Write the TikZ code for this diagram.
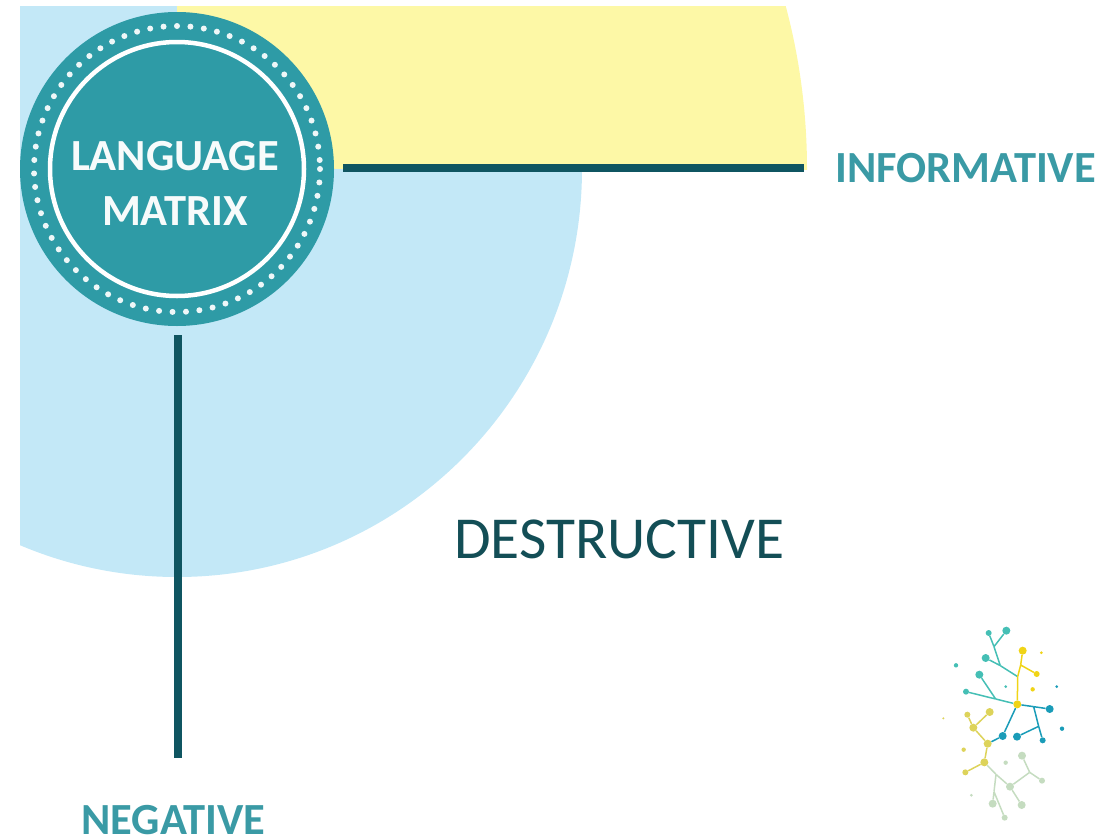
\documentclass[tikz,border=0pt]{standalone}
\usepackage{fontspec}
\setmainfont{Carlito}
\definecolor{skyfill}{HTML}{C3E8F7}
\definecolor{yellowfill}{HTML}{FDF8A6}
\definecolor{hubteal}{HTML}{2E9BA6}
\definecolor{axisdark}{HTML}{0F5561}
\definecolor{labelteal}{HTML}{3A9AA5}
\definecolor{destr}{HTML}{134E56}
\definecolor{nteal}{HTML}{45BFB5}
\definecolor{nyellow}{HTML}{F0D416}
\definecolor{nblue}{HTML}{1A9CB8}
\definecolor{nolive}{HTML}{DDD35A}
\definecolor{ngreen}{HTML}{C5DCC0}
\tikzset{
  axisline/.style={draw=axisdark,line width=8.5pt},
  bl/.style={circle,fill,inner sep=0pt,minimum size=8pt},
  md/.style={circle,fill,inner sep=0pt,minimum size=6pt},
  sm/.style={circle,fill,inner sep=0pt,minimum size=4.4pt},
  ti/.style={circle,fill,inner sep=0pt,minimum size=3pt},
  jn/.style={inner sep=0pt,minimum size=0pt},
  link/.style={line width=1.5pt},
  hubtext/.style={white!96!hubteal,font=\bfseries\fontsize{44.5}{44.5}\selectfont,inner sep=0pt},
  sidetext/.style={labelteal,font=\bfseries\fontsize{44.5}{44.5}\selectfont,inner sep=0pt},
}
\begin{document}
\begin{tikzpicture}[x=1pt,y=-1pt]
\useasboundingbox (0,0) rectangle (1117,835);
% quadrants
\begin{scope}
\clip (177,6) rectangle (830,169);
\fill[yellowfill] (177,169) circle[radius=630];
\end{scope}
\fill[skyfill] (20,6) rectangle (177,169);
\begin{scope}
\clip (20,169) rectangle (700,600);
\fill[skyfill] (177,169) circle[x radius=405,y radius=408];
\end{scope}
% hub
\node[circle,fill=hubteal,inner sep=0pt,minimum size=314pt] (hub) at (177,169) {};
\draw[white,line width=4.5pt] (hub.center) circle[radius=127];
\foreach \a in {0,5.4,...,359}
  \fill[white!92!hubteal] (hub.center) ++(\a:143) circle[radius=3];
\node[hubtext] (lang) at (175,156) {LANGUAGE};
\node[hubtext] (matr) at (175,211) {MATRIX};
% axes
\coordinate (hx) at (343,168);
\coordinate (hy) at (178,335);
\node[sidetext,anchor=west] (info) at (835,168) {INFORMATIVE};
\node[sidetext] (neg) at (173.5,820) {NEGATIVE};
\coordinate (ex) at (804,168);
\coordinate (ey) at (178,758);
\draw[axisline] (hx) -- (ex);
\draw[axisline] (hy) -- (ey);
\node[destr,font=\fontsize{59.5}{59.5}\selectfont,inner sep=0pt] (destr) at (619.5,539) {DESTRUCTIVE};
% network
\begin{scope}[shift={(930,620)},x=1pt/3,y=-1pt/3]
 \node[jn] (a) at (192,80) {}; \node[jn] (b) at (211,137) {}; \node[jn] (c) at (263,170) {};
 \node[jn] (d) at (197,237) {}; \node[jn] (e) at (272,135) {};
 \node[jn] (g) at (311,260) {}; \node[jn] (h) at (326,319) {};
 \node[jn] (i) at (198,463) {}; \node[jn] (j) at (299,457) {}; \node[jn] (k) at (192,515) {};
 \path
  (176,39) node[md,nteal] (T1) {} (229,32) node[bl,nteal] (T2) {} (167,114) node[bl,nteal] (T3) {}
  (148,164) node[bl,nteal] (T4) {} (108,215) node[md,nteal] (T5) {}
  (78,136) node[sm,nteal] (T6) {} (227,200) node[ti,nteal] (T7) {}
  (278,92) node[bl,nyellow] (Y1) {} (320,162) node[md,nyellow] (Y2) {} (262,253) node[bl,nyellow] (H) {}
  (334,98) node[ti,nyellow] (Y3) {} (308,208) node[sm,nyellow] (Y4) {}
  (359,267) node[bl,nblue] (B1) {} (338,361) node[md,nblue] (B2) {} (261,350) node[bl,nblue] (B3) {}
  (218,348) node[bl,nblue] (B4) {} (380,200) node[ti,nblue] (B5) {} (396,326) node[sm,nblue] (B6) {}
  (179,276) node[bl,nolive] (O1) {} (130,323) node[bl,nolive] (O3) {} (112,284) node[md,nolive] (O4) {}
  (173,371) node[bl,nolive] (O2) {} (163,427) node[bl,nolive] (O5) {} (106,457) node[md,nolive] (O6) {}
  (101,389) node[sm,nolive] (O7) {} (40,295) node[minimum size=2.2pt,circle,fill,inner sep=0pt,nolive] (O8) {}
  (240,500) node[bl,ngreen] (G1) {} (276,407) node[bl,ngreen] (G2) {} (336,482) node[md,ngreen] (G3) {}
  (275,555) node[bl,ngreen] (G4) {} (188,551) node[bl,ngreen] (G5) {} (224,593) node[md,ngreen] (G6) {}
  (227,428) node[sm,ngreen] (G7) {} (124,526) node[ti,ngreen] (G8) {};
 \draw[link,nteal] (T1) -- (a) -- (b) -- (c) (T2) -- (a) (T3) -- (b) (T4) -- (d) (T5) -- (d) -- (H);
 \draw[link,nyellow] (Y1) -- (e) -- (c) -- (H) (e) -- (Y2);
 \draw[link,nblue] (H) -- (g) -- (B1) (g) -- (h) -- (B2) (h) -- (B3) (H) -- (B4) -- (O2);
 \draw[link,nolive] (O1) -- (O3) -- (O4) (O3) -- (O2) -- (O5) -- (O6);
 \draw[link,ngreen] (O5) -- (i) -- (G1) -- (j) -- (G2) (j) -- (G3) (G1) -- (G4) (i) -- (k) -- (G5) (k) -- (G6);
\end{scope}
\end{tikzpicture}
\end{document}
